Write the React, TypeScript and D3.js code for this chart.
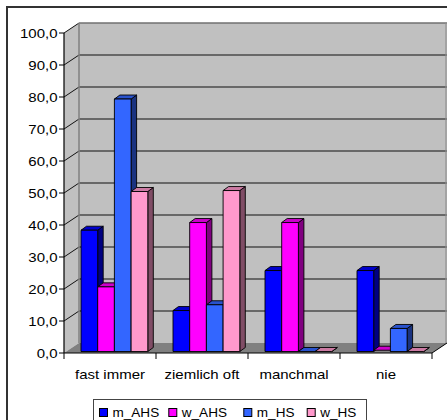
import React from "react";
import * as d3 from "d3";

// Category labels and series shown in the clustered 3D column chart
const categories = ["fast immer", "ziemlich oft", "manchmal", "nie"];
const seriesNames = ["m_AHS", "w_AHS", "m_HS", "w_HS"];
const seriesColors = ["#0000FF", "#FF00FF", "#3366FF", "#FF99CC"];

// Percent values per series, one entry per category
const mAHS = [37.9, 12.8, 25.3, 25.3];
const wAHS = [20.2, 40.3, 40.3, 0.4];
const mHS = [78.9, 14.6, 0, 7.2];
const wHS = [50.0, 50.3, 0, 0];
const seriesValues = [mAHS, wAHS, mHS, wHS];

const yTicks = [0, 10, 20, 30, 40, 50, 60, 70, 80, 90, 100];

const W = 447;
const H = 420;

// plot frame
const X0 = 64;
const X1 = 432;
const DEPTH_X = 15;
const DEPTH_Y = -10;
const FLOOR_Y = 353;
const TOP_Y = 33;

// bar depth within the floor
const BAR_DX = 5.5;
const BAR_DY = -4;
const BAR_OFF_X = 0;
const BAR_OFF_Y = -1.5;

const FONT = "'Liberation Sans', Arial, sans-serif";

function shade(c: string, k: number) {
  const col = d3.rgb(c);
  return d3.rgb(col.r * k, col.g * k, col.b * k).formatHex();
}

function SText(props: {
  x: number;
  y: number;
  anchor?: string;
  size?: number;
  sx?: number;
  children: React.ReactNode;
}) {
  const { x, y, anchor = "start", size = 12.5, sx = 1.2, children } = props;
  return (
    <text
      transform={`translate(${x},${y}) scale(${sx},1)`}
      textAnchor={anchor}
      fontFamily={FONT}
      fontSize={size}
      fill="#000"
    >
      {children}
    </text>
  );
}

export default function App() {
  const y = d3.scaleLinear().domain([0, 100]).range([FLOOR_Y, TOP_Y]);
  const xCat = d3
    .scaleBand<string>()
    .domain(categories)
    .range([X0, X1])
    .paddingInner(0)
    .paddingOuter(0);
  const inner = d3
    .scaleBand<string>()
    .domain(seriesNames)
    .range([17, 17 + 16.7 * 4]);

  const pts = (arr: [number, number][]) => arr.map((p) => p.join(",")).join(" ");

  const backLeft = X0 + DEPTH_X;
  const backRight = X1 + DEPTH_X;
  const backY = (v: number) => y(v) + DEPTH_Y;

  const bars: React.ReactNode[] = [];
  categories.forEach((cat, ci) => {
    seriesNames.forEach((s, si) => {
      const v = seriesValues[si][ci];
      const xl = (xCat(cat) as number) + (inner(s) as number) + BAR_OFF_X;
      const xr = xl + inner.bandwidth();
      const yb = y(0) + BAR_OFF_Y;
      const yt = y(v) + BAR_OFF_Y;
      const c = seriesColors[si];
      const key = `${ci}-${si}`;
      bars.push(
        <g key={key} stroke="#000" strokeWidth={0.9} strokeLinejoin="round">
          <polygon
            points={pts([
              [xr, yb],
              [xr + BAR_DX, yb + BAR_DY],
              [xr + BAR_DX, yt + BAR_DY],
              [xr, yt],
            ])}
            fill={shade(c, 0.5)}
          />
          <polygon
            points={pts([
              [xl, yt],
              [xl + BAR_DX, yt + BAR_DY],
              [xr + BAR_DX, yt + BAR_DY],
              [xr, yt],
            ])}
            fill={shade(c, 0.8)}
          />
          {v > 0.5 && (
            <rect x={xl} y={yt} width={xr - xl} height={yb - yt} fill={c} />
          )}
        </g>
      );
    });
  });

  const legendSwatchX = [99, 168.3, 243.3, 306.7];

  return (
    <svg width={W} height={H} style={{ position: "absolute", left: 0, top: 0 }}>
      <rect x={0} y={0} width={W} height={H} fill="#fff" />
      {/* outer chart border */}
      <rect x={7} y={7} width={W + 10} height={H + 10} fill="none" stroke="#333" strokeWidth={2} />

      {/* left wall */}
      <polygon
        points={pts([
          [X0, y(100)],
          [backLeft, backY(100)],
          [backLeft, backY(0)],
          [X0, y(0)],
        ])}
        fill="#C0C0C0"
      />
      {/* back wall */}
      <rect
        x={backLeft}
        y={backY(100)}
        width={backRight - backLeft}
        height={backY(0) - backY(100)}
        fill="#C0C0C0"
      />
      {/* floor */}
      <polygon
        points={pts([
          [X0, y(0)],
          [X1, y(0)],
          [backRight, backY(0)],
          [backLeft, backY(0)],
        ])}
        fill="#808080"
      />

      {/* gridlines on back and side wall */}
      {yTicks.map((t) =>
        t === 0 ? null : (
          <g key={t}>
            <line
              x1={backLeft}
              x2={backRight}
              y1={backY(t)}
              y2={backY(t)}
              stroke={t === 100 ? "#707070" : "#111"}
              strokeWidth={t === 100 ? 1.5 : 1}
            />
            <line
              x1={X0}
              y1={y(t)}
              x2={backLeft}
              y2={backY(t)}
              stroke="#111"
              strokeWidth={1}
            />
          </g>
        )
      )}
      <line x1={backLeft} x2={backLeft} y1={backY(100)} y2={backY(0)} stroke="#808080" strokeWidth={1.5} />
      <line x1={backRight - 1} x2={backRight - 1} y1={backY(100)} y2={backY(0)} stroke="#909090" strokeWidth={1.2} />

      {bars}

      {/* axes */}
      <line x1={X0} x2={X0} y1={y(100)} y2={y(0)} stroke="#000" strokeWidth={1.2} />
      <line x1={X0} x2={X1} y1={y(0)} y2={y(0)} stroke="#000" strokeWidth={1.2} />
      <line x1={X1} y1={y(0)} x2={backRight} y2={backY(0)} stroke="#000" strokeWidth={1} />
      {yTicks.map((t) => (
        <g key={`yt${t}`}>
          <line x1={X0 - 5} x2={X0} y1={y(t)} y2={y(t)} stroke="#000" strokeWidth={1} />
          <SText x={57.5} y={y(t) + 4.8} anchor="end">
            {d3.format(".1f")(t).replace(".", ",")}
          </SText>
        </g>
      ))}
      {d3.range(categories.length + 1).map((i) => {
        const xx = X0 + xCat.bandwidth() * i;
        return <line key={`ct${i}`} x1={xx} x2={xx} y1={y(0)} y2={y(0) + 6} stroke="#000" strokeWidth={1} />;
      })}
      {categories.map((c) => (
        <SText key={c} x={(xCat(c) as number) + xCat.bandwidth() / 2} y={379} anchor="middle">
          {c}
        </SText>
      ))}

      {/* legend */}
      <rect x={93.5} y={399.5} width={273} height={40} fill="#fff" stroke="#444" strokeWidth={1} />
      {seriesNames.map((s, i) => {
        const lx = legendSwatchX[i];
        return (
          <g key={s}>
            <rect x={lx + 0.5} y={408.5} width={8} height={8} fill={seriesColors[i]} stroke="#000" strokeWidth={1} />
            <SText x={lx + 13.5} y={416.8} size={12} sx={1.13}>
              {s}
            </SText>
          </g>
        );
      })}
    </svg>
  );
}
